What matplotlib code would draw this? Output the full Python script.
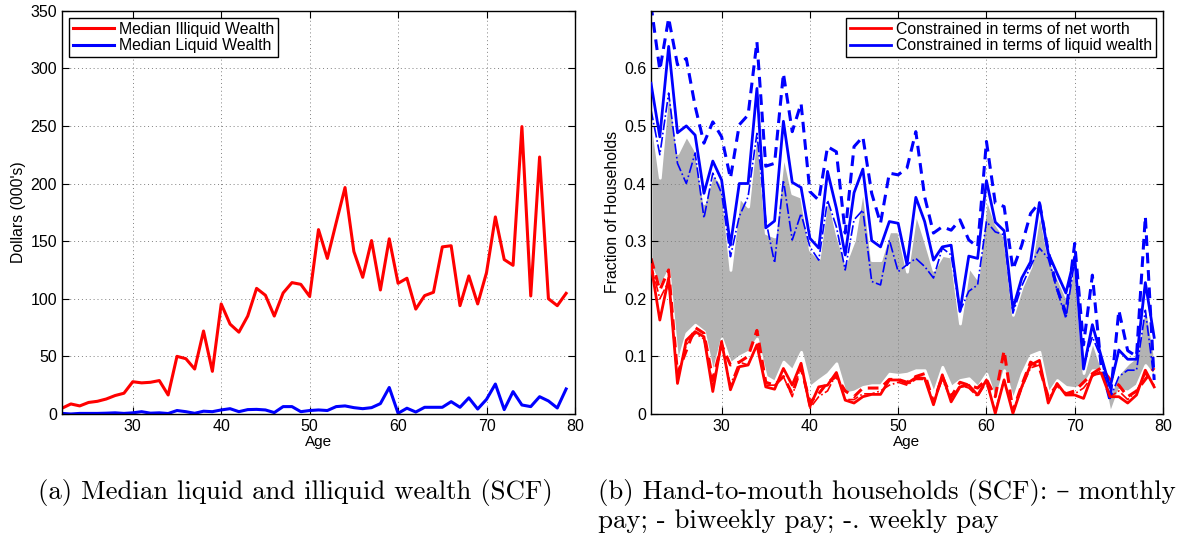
import numpy as np
import matplotlib.pyplot as plt

# ages on the horizontal axis
age = np.arange(22, 80)

# (a) median wealth, thousands of dollars
illiquid = [5, 8.7, 7, 10, 11, 13, 16, 18, 28, 27,
            27.5, 29, 16.5, 50, 48, 39, 72, 37, 95.5, 78,
            71, 85, 109, 103, 85, 105, 114, 112.5, 102, 160,
            135, 166, 196.5, 141, 118.6, 150.5, 107.6, 152, 113.4, 117.8,
            91, 102.7, 105.6, 145, 146, 94, 119.8, 95.5, 122.7, 171,
            134, 129, 249.4, 102.4, 223, 100, 94, 104.7]
liquid = [0.5, 0, 0.5, 0.5, 0.5, 0.7, 1, 0.5, 1, 2,
          0.7, 1, 0.4, 3, 2, 0.6, 2.4, 2, 3.5, 4.6,
          2, 3.8, 4, 3.5, 1.2, 6.4, 6.4, 2, 3, 3.5,
          3, 6.4, 7, 5.5, 4.6, 5.5, 9, 23, 0.6, 5,
          1.7, 5.8, 5.8, 5.8, 10.7, 5.8, 14, 4.3, 12.7, 26,
          3.8, 19.4, 7.8, 6.4, 15, 11.3, 5.2, 21.7]

# (b) hand-to-mouth shares: liquid wealth
liq_monthly = [0.574, 0.481, 0.638, 0.488, 0.50, 0.484, 0.383, 0.439, 0.406, 0.293,
               0.40, 0.40, 0.565, 0.323, 0.335, 0.508, 0.402, 0.393, 0.305, 0.288,
               0.421, 0.357, 0.276, 0.384, 0.425, 0.301, 0.29, 0.334, 0.331, 0.259,
               0.376, 0.334, 0.267, 0.29, 0.293, 0.178, 0.274, 0.27, 0.405, 0.333,
               0.318, 0.183, 0.236, 0.264, 0.367, 0.279, 0.244, 0.21, 0.273, 0.078,
               0.155, 0.10, 0.046, 0.111, 0.095, 0.095, 0.228, 0.133]
liq_biweekly = [0.71, 0.597, 0.687, 0.606, 0.617, 0.534, 0.47, 0.507, 0.481, 0.409,
                0.502, 0.519, 0.646, 0.43, 0.435, 0.591, 0.49, 0.539, 0.386, 0.371,
                0.464, 0.455, 0.314, 0.464, 0.481, 0.383, 0.331, 0.418, 0.415, 0.427,
                0.49, 0.377, 0.314, 0.325, 0.319, 0.337, 0.302, 0.29, 0.473, 0.366,
                0.36, 0.251, 0.293, 0.348, 0.367, 0.282, 0.218, 0.175, 0.296, 0.12,
                0.241, 0.082, 0.024, 0.18, 0.11, 0.10, 0.343, 0.059]
liq_weekly = [0.528, 0.45, 0.557, 0.435, 0.40, 0.453, 0.34, 0.418, 0.383, 0.273,
              0.343, 0.377, 0.487, 0.337, 0.262, 0.406, 0.302, 0.348, 0.29, 0.267,
              0.371, 0.325, 0.25, 0.337, 0.354, 0.23, 0.224, 0.302, 0.247, 0.259,
              0.27, 0.256, 0.236, 0.288, 0.276, 0.178, 0.213, 0.224, 0.334, 0.316,
              0.311, 0.175, 0.222, 0.256, 0.288, 0.27, 0.215, 0.166, 0.267, 0.085,
              0.134, 0.097, 0.027, 0.065, 0.076, 0.076, 0.18, 0.059]

# net worth
nw_monthly = [0.259, 0.163, 0.236, 0.053, 0.128, 0.143, 0.134, 0.039, 0.126, 0.042,
              0.082, 0.085, 0.12, 0.047, 0.043, 0.079, 0.05, 0.088, 0.013, 0.047,
              0.05, 0.072, 0.024, 0.019, 0.03, 0.034, 0.034, 0.059, 0.059, 0.053,
              0.063, 0.062, 0.016, 0.068, 0.021, 0.047, 0.05, 0.033, 0.059, 0.001,
              0.059, 0.001, 0.047, 0.085, 0.093, 0.019, 0.053, 0.033, 0.033, 0.027,
              0.068, 0.071, 0.03, 0.03, 0.019, 0.033, 0.076, 0.047]
nw_biweekly = [0.27, 0.215, 0.25, 0.07, 0.11, 0.15, 0.14, 0.06, 0.12, 0.085,
               0.09, 0.10, 0.145, 0.055, 0.05, 0.065, 0.035, 0.08, 0.02, 0.035,
               0.055, 0.065, 0.04, 0.03, 0.045, 0.045, 0.045, 0.06, 0.06, 0.055,
               0.065, 0.07, 0.02, 0.065, 0.03, 0.055, 0.05, 0.045, 0.06, 0.03,
               0.11, 0.005, 0.05, 0.09, 0.08, 0.03, 0.05, 0.035, 0.04, 0.055,
               0.07, 0.08, 0.06, 0.05, 0.03, 0.04, 0.06, 0.08]
nw_weekly = [0.26, 0.2, 0.23, 0.06, 0.12, 0.14, 0.13, 0.05, 0.12, 0.05,
             0.09, 0.085, 0.12, 0.05, 0.05, 0.065, 0.03, 0.085, 0.01, 0.03,
             0.04, 0.07, 0.025, 0.025, 0.035, 0.035, 0.04, 0.05, 0.055, 0.05,
             0.06, 0.06, 0.02, 0.06, 0.025, 0.05, 0.045, 0.03, 0.055, 0.005,
             0.06, 0.005, 0.045, 0.08, 0.085, 0.025, 0.05, 0.035, 0.035, 0.045,
             0.065, 0.075, 0.03, 0.04, 0.025, 0.04, 0.07, 0.05]

# grey band between the two groups
band_lo = [0.256, 0.22, 0.25, 0.088, 0.14, 0.155, 0.143, 0.07, 0.131, 0.088,
           0.1, 0.108, 0.131, 0.065, 0.056, 0.091, 0.076, 0.108, 0.047, 0.059,
           0.07, 0.088, 0.036, 0.039, 0.047, 0.05, 0.05, 0.07, 0.068, 0.07,
           0.076, 0.076, 0.036, 0.082, 0.047, 0.059, 0.062, 0.047, 0.07, 0.024,
           0.076, 0.024, 0.07, 0.102, 0.108, 0.036, 0.059, 0.047, 0.045, 0.05,
           0.076, 0.076, 0.0, 0.042, 0.039, 0.05, 0.085, 0.065]
band_hi = [0.52, 0.41, 0.58, 0.453, 0.484, 0.458, 0.366, 0.418, 0.398, 0.25,
           0.377, 0.36, 0.505, 0.314, 0.308, 0.453, 0.383, 0.377, 0.285, 0.27,
           0.383, 0.314, 0.262, 0.302, 0.395, 0.267, 0.267, 0.317, 0.317, 0.247,
           0.35, 0.302, 0.25, 0.276, 0.273, 0.157, 0.256, 0.235, 0.377, 0.331,
           0.308, 0.172, 0.221, 0.256, 0.354, 0.273, 0.238, 0.204, 0.262, 0.071,
           0.128, 0.082, 0.036, 0.071, 0.088, 0.1, 0.198, 0.105]

plt.rcParams['font.family'] = ['Liberation Sans', 'DejaVu Sans']

fig = plt.figure(figsize=(11.77, 5.33), dpi=100)
ax1 = fig.add_axes([0.0527, 0.2233, 0.4358, 0.7567])
ax2 = fig.add_axes([0.5531, 0.2233, 0.4350, 0.7567])


def matlab_style(ax):
    ax.tick_params(direction='in', top=True, right=True, labelsize=11.5, length=5)
    ax.grid(True, linestyle=(0, (1, 3)), color='0.5', linewidth=0.7)
    for s in ax.spines.values():
        s.set_linewidth(1.0)
    ax.set_xlim(22, 80)
    ax.set_xticks([30, 40, 50, 60, 70, 80])
    ax.set_xlabel('Age', fontsize=11, labelpad=1)


# panel (a)
ax1.plot(age, illiquid, color='red', lw=2.2, label='Median Illiquid Wealth')
ax1.plot(age, liquid, color='blue', lw=2.2, label='Median Liquid Wealth')
matlab_style(ax1)
ax1.set_ylim(0, 350)
ax1.set_yticks(np.arange(0, 351, 50))
ax1.set_ylabel("Dollars (000's)", fontsize=11.3, labelpad=3)
ax1.legend(loc='upper left', fontsize=11.4, fancybox=False, edgecolor='black',
           framealpha=1, borderpad=0.25, labelspacing=0.1, handlelength=2.6,
           handletextpad=0.3, borderaxespad=0.45).get_frame().set_linewidth(1.0)

# panel (b)
ax2.fill_between(age, band_lo, band_hi, facecolor='0.7', edgecolor='white', lw=2, zorder=1)
ax2.plot(age, nw_biweekly, color='red', lw=2.2, ls=(0, (3.5, 2.2)), zorder=2)
ax2.plot(age, nw_weekly, color='red', lw=1.2, ls='-.', zorder=2)
ax2.plot(age, liq_biweekly, color='blue', lw=2.2, ls=(0, (3.5, 2.2)), zorder=2)
ax2.plot(age, liq_weekly, color='blue', lw=1.2, ls='-.', zorder=2)
ax2.plot(age, nw_monthly, color='red', lw=2, zorder=3,
         label='Constrained in terms of net worth')
ax2.plot(age, liq_monthly, color='blue', lw=2, zorder=3,
         label='Constrained in terms of liquid wealth')
matlab_style(ax2)
ax2.set_ylim(0, 0.7)
ax2.set_yticks([0, 0.1, 0.2, 0.3, 0.4, 0.5, 0.6])
ax2.set_yticklabels(['0', '0.1', '0.2', '0.3', '0.4', '0.5', '0.6'])
ax2.set_ylabel('Fraction of Households', fontsize=11.3, labelpad=3)
ax2.legend(loc='upper right', fontsize=11.4, fancybox=False, edgecolor='black',
           framealpha=1, borderpad=0.25, labelspacing=0.1, handlelength=2.6,
           handletextpad=0.3, borderaxespad=0.45).get_frame().set_linewidth(1.0)

# captions
cap = dict(family=['cmr10', 'DejaVu Serif'], fontsize=19.3, va='center', ha='left')
fig.text(38 / 1177, 1 - 493 / 533, '(a) Median liquid and illiquid wealth (SCF)', **cap)
fig.text(598 / 1177, 1 - 493 / 533, '(b) Hand-to-mouth households (SCF): \u2013 monthly', **cap)
fig.text(598 / 1177, 1 - 521 / 533, 'pay; - biweekly pay; -. weekly pay', **cap)

fig.savefig('out.png', dpi=100)
